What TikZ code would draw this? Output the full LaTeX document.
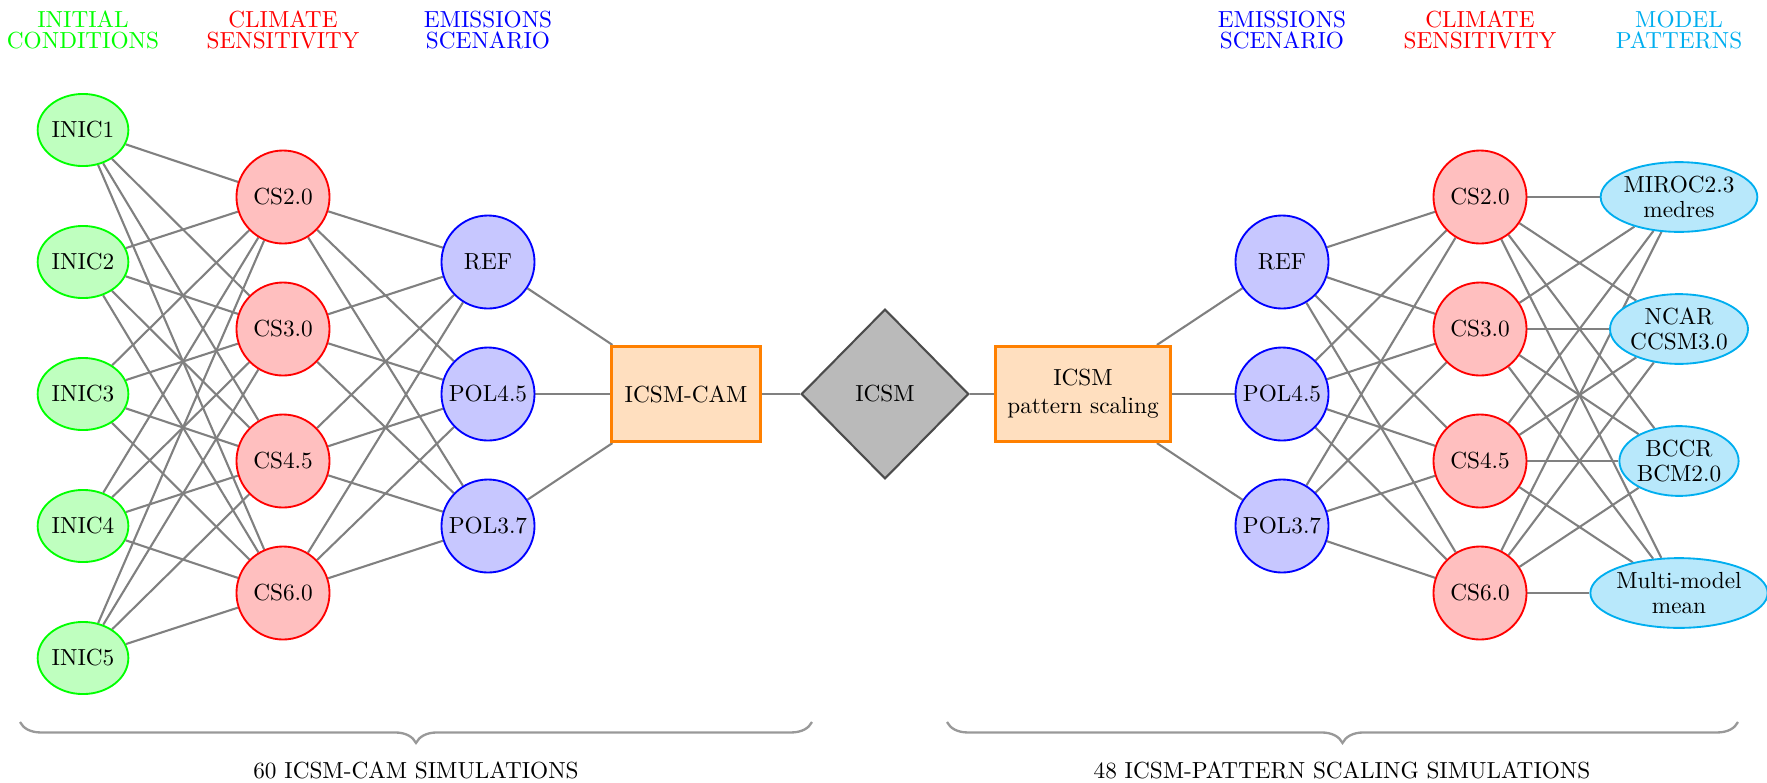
\documentclass[tikz,border=0pt]{standalone}
\usetikzlibrary{shapes.geometric,decorations.pathreplacing,backgrounds}
\definecolor{modelblue}{RGB}{0,174,239}
\begin{document}
\begin{tikzpicture}[x=0.43pt,y=-0.43pt,
  every node/.style={font=\fontsize{10}{12}\selectfont},
  edgeline/.style={draw=gray, line width=0.9pt},
  inic/.style={ellipse, draw=green, fill=green!25, thick, minimum width=39pt, minimum height=31pt, inner sep=0pt},
  cs/.style={circle, draw=red, fill=red!25, thick, minimum size=40pt, inner sep=0pt},
  emis/.style={circle, draw=blue, fill=blue!22, thick, minimum size=40pt, inner sep=0pt},
  model/.style={ellipse, draw=modelblue, fill=modelblue!28, thick, inner sep=0pt, minimum height=30pt, align=center, font=\fontsize{10}{11}\selectfont},
  simbox/.style={rectangle, draw=orange, fill=orange!25, line width=1.2pt, minimum height=41pt, align=center},
  hub/.style={diamond, draw=black!70, fill=black!27, line width=0.9pt, minimum width=72pt, minimum height=73pt, inner sep=0pt},
  header/.style={align=center, font=\fontsize{10}{9}\selectfont},
  simspan/.style={decorate, decoration={brace, mirror, amplitude=9pt}, draw=gray!80, line width=1pt},
]
\useasboundingbox (0,0) rectangle (1767,782);

% column headers
\node[header, text=green] (hIn) at (83,30) {INITIAL\\CONDITIONS};
\node[header, text=red] (hCsL) at (283,30) {CLIMATE\\SENSITIVITY};
\node[header, text=blue] (hEmL) at (488,30) {EMISSIONS\\SCENARIO};
\node[header, text=blue] (hEmR) at (1282,30) {EMISSIONS\\SCENARIO};
\node[header, text=red] (hCsR) at (1480,30) {CLIMATE\\SENSITIVITY};
\node[header, text=modelblue] (hMod) at (1679,30) {MODEL\\PATTERNS};

% ICSM-CAM branch
\foreach \i in {1,...,5}
  \node[inic] (in\i) at (83,{130+132*(\i-1)}) {INIC\i};
\foreach \v [count=\j] in {2.0,3.0,4.5,6.0}
  \node[cs] (lc\j) at (283,{197+132*(\j-1)}) {CS\v};
\foreach \v [count=\k] in {REF,POL4.5,POL3.7}
  \node[emis] (le\k) at (488,{262+132*(\k-1)}) {\v};
\node[simbox, minimum width=64pt] (cam) at (686,394) {ICSM-CAM};

% central model
\node[hub] (icsm) at (885,394) {ICSM};

% pattern scaling branch
\node[simbox, minimum width=75.5pt] (ps) at (1083,394) {ICSM\\pattern scaling};
\foreach \v [count=\k] in {REF,POL4.5,POL3.7}
  \node[emis] (re\k) at (1282,{262+132*(\k-1)}) {\v};
\foreach \v [count=\j] in {2.0,3.0,4.5,6.0}
  \node[cs] (rc\j) at (1480,{197+132*(\j-1)}) {CS\v};
\node[model] (m1) at (1679,197) {MIROC2.3\\medres};
\node[model] (m2) at (1679,329) {NCAR\\CCSM3.0};
\node[model] (m3) at (1679,461) {BCCR\\BCM2.0};
\node[model] (m4) at (1679,593) {Multi-model\\mean};

% connectors
\begin{scope}[on background layer]
  \foreach \i in {1,...,5}
    \foreach \j in {1,...,4}
      \draw[edgeline] (in\i) -- (lc\j);
  \foreach \j in {1,...,4}
    \foreach \k in {1,...,3}
      \draw[edgeline] (lc\j) -- (le\k);
  \foreach \k in {1,...,3}
    \draw[edgeline] (le\k) -- (cam);
  \draw[edgeline] (cam) -- (icsm);
  \draw[edgeline] (icsm) -- (ps);
  \foreach \k in {1,...,3}
    \draw[edgeline] (ps) -- (re\k);
  \foreach \k in {1,...,3}
    \foreach \j in {1,...,4}
      \draw[edgeline] (re\k) -- (rc\j);
  \foreach \j in {1,...,4}
    \foreach \m in {1,...,4}
      \draw[edgeline] (rc\j) -- (m\m);
\end{scope}

% simulation counts
\coordinate (bLa) at (20,722);
\coordinate (bLb) at (812,722);
\coordinate (bRa) at (947,722);
\coordinate (bRb) at (1738,722);
\draw[simspan] (bLa) -- (bLb);
\draw[simspan] (bRa) -- (bRb);
\node (tL) at (416,770) {60 ICSM-CAM SIMULATIONS};
\node (tR) at (1342,770) {48 ICSM-PATTERN SCALING SIMULATIONS};
\end{tikzpicture}
\end{document}
